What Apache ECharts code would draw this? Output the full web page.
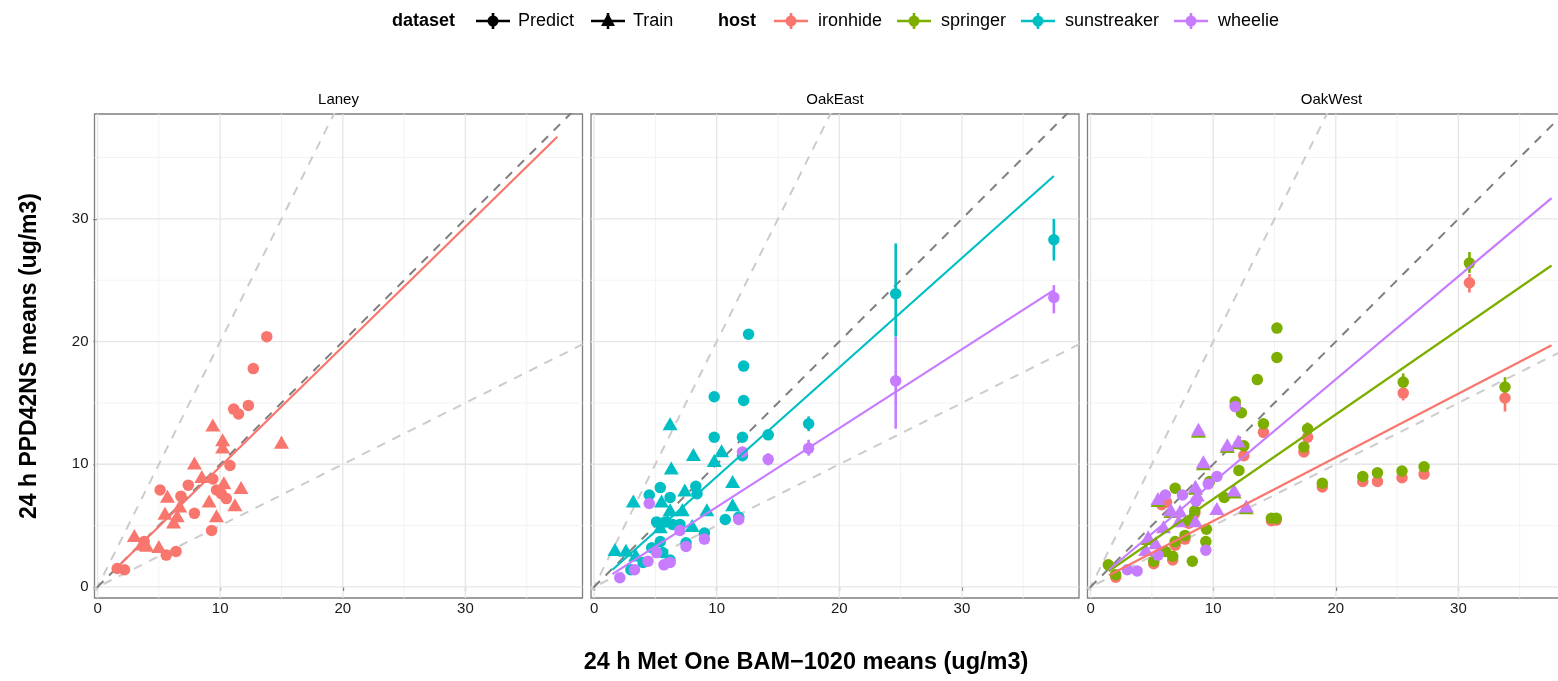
<!DOCTYPE html>
<html>
<head>
<meta charset="utf-8">
<title>PPD42NS vs BAM-1020</title>
<script src="https://cdn.jsdelivr.net/npm/echarts@6.0.0/dist/echarts.min.js"></script>
<style>
html, body { margin: 0; padding: 0; background: #fff; overflow: hidden; }
#chart { width: 1600px; height: 681px; }
</style>
</head>
<body>
<div id="chart"></div>
<script>
var FONT = '"Liberation Sans", Arial, sans-serif';

var panels = ['Laney', 'OakEast', 'OakWest'];
var hosts = ['ironhide', 'springer', 'sunstreaker', 'wheelie'];
var hostColors = { ironhide: '#F8766D', springer: '#7CAE00', sunstreaker: '#00BFC4', wheelie: '#C77CFF' };
var xTicks = [0, 10, 20, 30];
var yTicks = [0, 10, 20, 30];
var majorGrid = [0, 10, 20, 30];
var minorGrid = [5, 15, 25, 35];
var xRange = [-0.25, 39.55];
var yRange = [-0.9, 38.55];
// reference lines y = k * x
var lightSlopes = [2, 0.5];
var darkSlopes = [1];

// ---- Laney ----
var laneyIronhidePredict = [[13.8,20.4],[12.7,17.8],[12.3,14.8],[11.1,14.5],[11.5,14.1],[10.8,9.9],[9.4,8.8],[7.4,8.3],[6.8,7.4],[5.1,7.9],[9.7,7.9],[10.1,7.6],[10.5,7.2],[7.9,6.0],[9.3,4.6],[6.4,2.9],[5.6,2.6],[3.8,3.7],[1.6,1.5],[2.2,1.4]];
var laneyIronhideTrain = [[9.4,13.2],[10.2,12.0],[10.2,11.4],[15.0,11.8],[7.9,10.1],[8.5,9.0],[10.3,8.5],[11.7,8.1],[5.7,7.4],[9.1,7.0],[6.7,6.6],[11.2,6.7],[5.5,6.0],[6.5,5.8],[6.2,5.3],[9.7,5.8],[3.0,4.2],[3.6,3.5],[4.0,3.4],[5.0,3.3]];
var laneyIronhideErr = [[15.0,11.4,12.2]];
var laneyIronhideFit = [[1.5,1.5],[37.5,36.7]];

// ---- OakEast ----
var eastSunPredict = [[12.6,20.6],[12.2,18.0],[9.8,15.5],[12.2,15.2],[9.8,12.2],[12.1,12.2],[14.2,12.4],[12.1,10.7],[8.3,8.2],[8.4,7.6],[5.4,8.1],[4.5,7.5],[6.2,7.3],[10.7,5.5],[11.8,5.7],[5.1,5.3],[5.8,5.3],[6.4,5.1],[7.0,5.1],[9.0,4.4],[7.5,3.6],[5.4,3.7],[4.7,3.2],[5.6,2.8],[6.2,2.2],[4.0,2.0],[3.0,1.4],[17.5,13.3],[24.6,23.9],[37.5,28.3]];
var eastSunTrain = [[6.2,13.3],[8.1,10.8],[10.4,11.1],[9.8,10.3],[6.3,9.7],[11.3,8.6],[7.4,7.9],[3.2,7.0],[5.5,7.0],[6.2,6.3],[7.2,6.3],[9.2,6.3],[11.3,6.7],[8.0,5.0],[5.4,4.9],[6.0,5.4],[1.7,3.05],[2.6,3.0],[3.4,2.6]];
var eastWheeliePredict = [[4.5,6.8],[7.0,4.6],[7.5,3.3],[9.0,3.9],[11.8,5.5],[6.2,2.0],[5.7,1.8],[5.1,2.8],[4.4,2.1],[3.3,1.4],[2.1,0.75],[14.2,10.4],[12.1,11.0],[17.5,11.3],[24.6,16.8],[37.5,23.6]];
var eastSunErr = [[14.2,12.0,12.8],[17.5,12.7,13.9],[24.6,20.4,28.0],[37.5,26.6,30.0]];
var eastWheelieErr = [[14.2,9.9,10.9],[17.5,10.7,12.0],[24.6,12.9,20.4],[37.5,22.3,24.6]];
var eastSunFit = [[1.5,1.4],[37.5,33.5]];
var eastWheelieFit = [[1.5,1.05],[37.5,24.2]];

// ---- OakWest ----
var westIronhidePredict = [[30.9,24.8],[25.5,15.8],[33.8,15.4],[14.1,12.6],[17.7,12.2],[17.4,11.0],[12.5,10.7],[18.9,8.15],[22.2,8.6],[23.4,8.6],[25.4,8.9],[27.2,9.2],[14.75,5.4],[15.15,5.45],[6.2,6.9],[5.8,6.7],[7.7,3.9],[6.9,3.4],[5.15,1.9],[6.7,2.2],[2.05,0.8],[8.0,5.2],[8.5,6.0],[11.8,14.8]];
var westSpringerPredict = [[30.9,26.4],[15.2,21.1],[15.2,18.7],[13.6,16.9],[11.8,15.1],[12.3,14.2],[14.1,13.3],[17.7,12.9],[17.4,11.4],[25.5,16.7],[33.8,16.3],[12.5,11.5],[12.1,9.5],[18.9,8.45],[22.2,9.0],[23.4,9.3],[25.4,9.45],[27.2,9.8],[10.9,7.3],[6.9,8.05],[9.7,8.6],[8.5,6.2],[8.0,5.4],[9.45,4.7],[9.4,3.7],[7.7,4.2],[6.9,3.7],[5.15,2.1],[6.7,2.5],[6.1,2.9],[8.3,2.1],[1.45,1.8],[2.05,1.0],[14.75,5.6],[15.15,5.6]];
var westSpringerTrain = [[8.8,12.7],[11.15,11.45],[12.05,11.75],[9.2,10.05],[8.55,8.05],[11.7,7.75],[5.5,7.05],[12.7,6.45],[6.55,6.15],[4.7,3.95]];
var westWheeliePredict = [[11.8,14.7],[10.3,9.0],[9.6,8.4],[7.5,7.5],[6.1,7.5],[8.6,7.0],[9.4,3.0],[5.5,2.6],[3.0,1.4],[3.8,1.3]];
var westWheelieTrain = [[8.8,12.85],[11.15,11.6],[12.05,11.9],[9.2,10.2],[8.55,8.2],[11.7,7.9],[5.5,7.2],[10.3,6.4],[12.7,6.6],[8.7,7.5],[6.55,6.3],[7.3,6.2],[7.2,5.4],[8.55,5.4],[5.95,4.9],[4.7,4.1],[5.3,3.6],[4.5,3.05]];
var westSpringerErr = [[30.9,25.6,27.3],[25.5,16.0,17.4],[33.8,15.5,17.1],[17.7,12.4,13.4]];
var westIronhideErr = [[30.9,24.0,25.5],[25.5,15.2,16.4],[33.8,14.3,16.2],[17.7,11.8,12.6]];
var westIronhideFit = [[1.5,0.95],[37.6,19.7]];
var westSpringerFit = [[1.5,1.3],[37.6,26.2]];
var westWheelieFit = [[1.5,1.4],[37.6,31.7]];

// layers per panel: [host, kind, data]
var panelLayers = [
	[
		['ironhide', 'err', laneyIronhideErr],
		['ironhide', 'Train', laneyIronhideTrain],
		['ironhide', 'Predict', laneyIronhidePredict],
		['ironhide', 'fit', laneyIronhideFit]
	],
	[
		['sunstreaker', 'err', eastSunErr],
		['sunstreaker', 'Train', eastSunTrain],
		['sunstreaker', 'Predict', eastSunPredict],
		['wheelie', 'err', eastWheelieErr],
		['wheelie', 'Predict', eastWheeliePredict],
		['sunstreaker', 'fit', eastSunFit],
		['wheelie', 'fit', eastWheelieFit]
	],
	[
		['ironhide', 'err', westIronhideErr],
		['ironhide', 'Predict', westIronhidePredict],
		['springer', 'err', westSpringerErr],
		['springer', 'Train', westSpringerTrain],
		['springer', 'Predict', westSpringerPredict],
		['wheelie', 'Train', westWheelieTrain],
		['wheelie', 'Predict', westWheeliePredict],
		['ironhide', 'fit', westIronhideFit],
		['springer', 'fit', westSpringerFit],
		['wheelie', 'fit', westWheelieFit]
	]
];

var panelLeft = [94.5, 591, 1087.5];
var panelWidth = 488;
var panelTop = 114;
var panelHeight = 484;

var grids = [], xAxes = [], yAxes = [], series = [];

panels.forEach(function (name, p) {
	grids.push({
		left: panelLeft[p], top: panelTop, width: panelWidth, height: panelHeight,
		show: true, borderColor: '#7f7f7f', borderWidth: 1.3, backgroundColor: '#fff'
	});
	xAxes.push({
		gridIndex: p, type: 'value', min: xRange[0], max: xRange[1],
		axisLine: { show: false },
		splitLine: { show: false },
		axisTick: { show: true, customValues: xTicks, length: 4, lineStyle: { color: '#333', width: 1.2 } },
		axisLabel: { customValues: xTicks, fontSize: 15, color: '#1a1a1a', fontFamily: FONT, margin: 3 }
	});
	yAxes.push({
		gridIndex: p, type: 'value', min: yRange[0], max: yRange[1],
		axisLine: { show: false },
		splitLine: { show: false },
		axisTick: { show: p === 0, customValues: yTicks, length: 4, lineStyle: { color: '#333', width: 1.2 } },
		axisLabel: { show: p === 0, customValues: yTicks, fontSize: 15, color: '#1a1a1a', fontFamily: FONT, margin: 6 }
	});

	// grid lines
	function gridLineSeries(values, color, width, vertical) {
		return {
			type: 'custom', xAxisIndex: p, yAxisIndex: p, silent: true, z: 1,
			data: values.map(function (v) { return vertical ? [v, 0] : [0, v]; }),
			renderItem: function (params, api) {
				var cs = params.coordSys;
				var pt = api.coord([api.value(0), api.value(1)]);
				var shape = vertical
					? { x1: pt[0], y1: cs.y, x2: pt[0], y2: cs.y + cs.height }
					: { x1: cs.x, y1: pt[1], x2: cs.x + cs.width, y2: pt[1] };
				return { type: 'line', shape: shape, style: { stroke: color, lineWidth: width } };
			}
		};
	}
	series.push(gridLineSeries(minorGrid, '#f3f3f3', 1, true));
	series.push(gridLineSeries(minorGrid, '#f3f3f3', 1, false));
	series.push(gridLineSeries(majorGrid, '#e6e6e6', 1.3, true));
	series.push(gridLineSeries(majorGrid, '#e6e6e6', 1.3, false));

	// reference lines
	function refLine(k, color) {
		return {
			type: 'line', xAxisIndex: p, yAxisIndex: p, z: 2, silent: true, clip: true,
			symbol: 'none', animation: false,
			data: [[-2, -2 * k], [45, 45 * k]],
			lineStyle: { color: color, width: 2, type: [9, 8] }
		};
	}
	lightSlopes.forEach(function (k) { series.push(refLine(k, '#cccccc')); });
	darkSlopes.forEach(function (k) { series.push(refLine(k, '#7f7f7f')); });

	panelLayers[p].forEach(function (layer) {
		var color = hostColors[layer[0]], kind = layer[1], data = layer[2];
		if (kind === 'err') {
			series.push({
				type: 'custom', xAxisIndex: p, yAxisIndex: p, z: 3, silent: true,
				data: data,
				renderItem: function (params, api) {
					var a = api.coord([api.value(0), api.value(1)]);
					var b = api.coord([api.value(0), api.value(2)]);
					return { type: 'line', shape: { x1: a[0], y1: a[1], x2: b[0], y2: b[1] }, style: { stroke: color, lineWidth: 2.6 } };
				}
			});
		} else if (kind === 'fit') {
			series.push({
				type: 'line', xAxisIndex: p, yAxisIndex: p, z: 4, silent: true, clip: true,
				symbol: 'none', animation: false, data: data,
				lineStyle: { color: color, width: 2.2 }
			});
		} else {
			series.push({
				type: 'scatter', xAxisIndex: p, yAxisIndex: p, z: 3, silent: true,
				symbol: kind === 'Train' ? 'triangle' : 'circle',
				symbolSize: kind === 'Train' ? [15, 13] : 11.5,
				itemStyle: { color: color, opacity: 1 },
				data: data
			});
		}
	});
});

// legend, strip labels and axis titles
var graphics = [];
function txt(x, y, s, bold, size, extra) {
	var g = { type: 'text', x: x, y: y, silent: true,
		style: { text: s, fill: '#000', font: (bold ? 'bold ' : '') + size + 'px ' + FONT, align: 'left', verticalAlign: 'middle' } };
	if (extra) { for (var k in extra) g[k] = extra[k]; }
	return g;
}
function key(cx, cy, color, triangle) {
	graphics.push({ type: 'line', silent: true, shape: { x1: cx - 17, y1: cy, x2: cx + 17, y2: cy }, style: { stroke: color, lineWidth: 2.6 } });
	graphics.push({ type: 'line', silent: true, shape: { x1: cx, y1: cy - 8, x2: cx, y2: cy + 8 }, style: { stroke: color, lineWidth: 2.6 } });
	if (triangle) {
		graphics.push({ type: 'polygon', silent: true, shape: { points: [[cx, cy - 8], [cx - 7, cy + 5], [cx + 7, cy + 5]] }, style: { fill: color } });
	} else {
		graphics.push({ type: 'circle', silent: true, shape: { cx: cx, cy: cy, r: 5.5 }, style: { fill: color } });
	}
}
var legendY = 21;
graphics.push(txt(392, legendY, 'dataset', true, 18));
key(493, legendY, '#000', false);
graphics.push(txt(518, legendY, 'Predict', false, 18));
key(608, legendY, '#000', true);
graphics.push(txt(633, legendY, 'Train', false, 18));
graphics.push(txt(718, legendY, 'host', true, 18));
var hostKeyX = [791, 914, 1038, 1191];
hosts.forEach(function (h, i) {
	key(hostKeyX[i], legendY, hostColors[h], false);
	graphics.push(txt(hostKeyX[i] + 27, legendY, h, false, 18));
});
panels.forEach(function (name, p) {
	var t = txt(panelLeft[p] + panelWidth / 2, 100, name, false, 15);
	t.style.align = 'center';
	graphics.push(t);
});
var xt = txt(806, 663, '24 h Met One BAM\u22121020 means (ug/m3)', true, 23.5);
xt.style.align = 'center';
graphics.push(xt);
var yt = txt(30, 356, '24 h PPD42NS means (ug/m3)', true, 23, { rotation: Math.PI / 2 });
yt.style.align = 'center';
graphics.push(yt);

var chart = echarts.init(document.getElementById('chart'));
chart.setOption({
	animation: false,
	backgroundColor: '#fff',
	grid: grids,
	xAxis: xAxes,
	yAxis: yAxes,
	series: series,
	graphic: { elements: graphics }
});
</script>
</body>
</html>
